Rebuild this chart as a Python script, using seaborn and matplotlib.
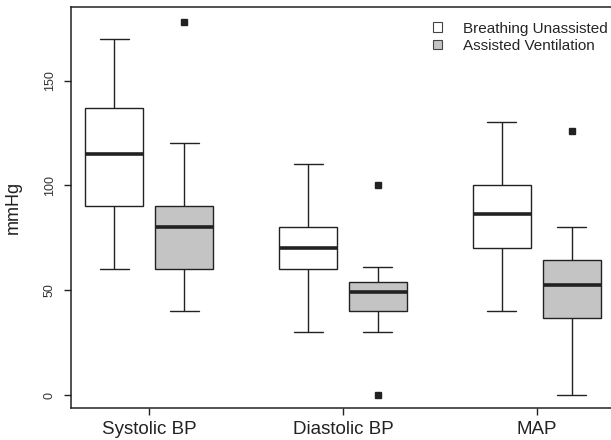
import pandas as pd
import matplotlib
matplotlib.use("Agg")
import matplotlib.pyplot as plt
import seaborn as sns

# Box summaries (mmHg)
measures = ["Systolic BP", "Diastolic BP", "MAP"]
groups = ["Breathing Unassisted", "Assisted Ventilation"]

unassisted_low = [60, 30, 40]
unassisted_q1 = [90, 60, 70]
unassisted_median = [115, 70, 86.5]
unassisted_q3 = [137, 80, 100]
unassisted_high = [170, 110, 130]
unassisted_outliers = [[], [], []]

assisted_low = [40, 30, 0]
assisted_q1 = [60, 40, 36.7]
assisted_median = [80, 49, 52.6]
assisted_q3 = [90, 54, 64.6]
assisted_high = [120, 61, 80]
assisted_outliers = [[178], [100, 0], [126]]

y_ticks = [0, 50, 100, 150]

# Style
sns.set_theme(style="ticks")
plt.rcParams["font.family"] = ["Liberation Sans", "DejaVu Sans"]
ink = "#222222"


def box_sample(lo, q1, med, q3, hi, outs):
    # nine points whose quartiles and whisker ends give the box summary
    vals = [lo, lo, q1, q1, med, q3, q3, hi, hi]
    for o in outs:
        if o < lo:
            vals[0] = o
        else:
            vals[-1] = o
    return vals


rows = []
stats = {
    groups[0]: (unassisted_low, unassisted_q1, unassisted_median, unassisted_q3, unassisted_high, unassisted_outliers),
    groups[1]: (assisted_low, assisted_q1, assisted_median, assisted_q3, assisted_high, assisted_outliers),
}
for g, (lo, q1, med, q3, hi, outs) in stats.items():
    for i, m in enumerate(measures):
        for v in box_sample(lo[i], q1[i], med[i], q3[i], hi[i], outs[i]):
            rows.append({"Measure": m, "Group": g, "mmHg": v})
df = pd.DataFrame(rows)

fig = plt.figure(figsize=(6.11, 4.40), dpi=100)
ax = fig.add_axes([71 / 611, 32 / 440, 540 / 611, 401 / 440])

sns.boxplot(
    data=df, x="Measure", y="mmHg", hue="Group",
    order=measures, hue_order=groups,
    palette={groups[0]: "white", groups[1]: "#c4c4c4"},
    saturation=1, width=0.72, gap=0.17, whis=1.5,
    linecolor=ink, linewidth=1.0,
    medianprops=dict(color=ink, linewidth=2.6),
    flierprops=dict(marker="s", markersize=4, markerfacecolor=ink, markeredgecolor=ink),
    ax=ax,
)

ax.set_xlim(-0.404, 2.383)
ax.set_ylim(-6.2, 185.1)
ax.set_yticks(y_ticks)
ax.set_yticklabels([str(t) for t in y_ticks])
ax.set_xlabel("")
ax.set_ylabel("mmHg", fontsize=13, color=ink, labelpad=16)

ax.tick_params(axis="y", labelrotation=90, labelsize=9, length=5, width=1.0,
               color=ink, labelcolor="#333333", pad=6)
ax.tick_params(axis="x", labelsize=13.5, length=5, width=1.0, color=ink,
               labelcolor=ink, pad=4)
for lab in ax.get_yticklabels():
    lab.set_verticalalignment("center")

for side in ["left", "top", "bottom"]:
    ax.spines[side].set_color(ink)
    ax.spines[side].set_linewidth(1.1)
ax.spines["right"].set_visible(False)

handles, labels = ax.get_legend_handles_labels()
for h in handles:
    h.set_linewidth(0.8)
    h.set_edgecolor("#444444")
ax.legend(handles, labels, loc="upper right", bbox_to_anchor=(1.0, 0.958),
          bbox_transform=fig.transFigure, frameon=False, fontsize=11,
          handlelength=0.6, handleheight=0.6, handletextpad=1.4,
          labelspacing=0.22, borderpad=0.2, borderaxespad=0)

fig.savefig("out.png", dpi=100)
